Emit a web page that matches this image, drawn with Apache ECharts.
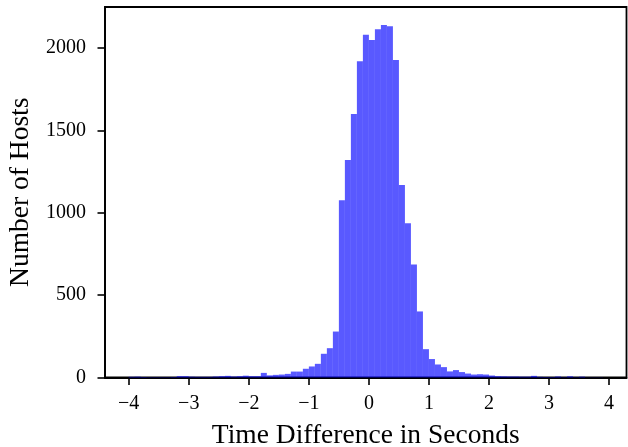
<!DOCTYPE html>
<html>
<head>
<meta charset="utf-8">
<script src="https://cdn.jsdelivr.net/npm/echarts@6/dist/echarts.min.js"></script>
<style>
html,body{margin:0;padding:0;background:#fff;}
#chart{width:628px;height:447px;}
</style>
</head>
<body>
<div id="chart"></div>
<script>
// Histogram bins (lower edges, in seconds) and bin width
const binLower = [
  -4.0,-3.9,-3.8,-3.7,-3.6,-3.5,-3.4,-3.3,-3.2,-3.1,
  -3.0,-2.9,-2.8,-2.7,-2.6,-2.5,-2.4,-2.3,-2.2,-2.1,
  -2.0,-1.9,-1.8,-1.7,-1.6,-1.5,-1.4,-1.3,-1.2,-1.1,
  -1.0,-0.9,-0.8,-0.7,-0.6,-0.5,-0.4,-0.3,-0.2,-0.1,
  0.0,0.1,0.2,0.3,0.4,0.5,0.6,0.7,0.8,0.9,
  1.0,1.1,1.2,1.3,1.4,1.5,1.6,1.7,1.8,1.9,
  2.0,2.1,2.2,2.3,2.4,2.5,2.6,2.7,2.8,2.9,
  3.0,3.1,3.2,3.3,3.4,3.5,3.6,3.7,3.8
];
const binWidth = 0.1;
// Number of hosts per bin
const hostCounts = [
  4,5,3,2,2,2,2,3,8,8,
  5,4,4,4,6,8,10,6,8,11,
  8,8,28,13,16,18,22,36,36,53,
  67,83,144,178,279,1076,1321,1600,1920,2080,
  2049,2114,2140,2132,1928,1169,937,686,401,172,
  112,79,63,37,45,33,24,18,20,18,
  12,8,7,6,6,5,5,10,4,3,
  3,6,2,7,2,5,1,1,1
];
// Tick values
const xTicks = [-4,-3,-2,-1,0,1,2,3,4];
const yTicks = [0,500,1000,1500,2000];

const chart = echarts.init(document.getElementById('chart'));
const data = binLower.map((x, i) => [x, hostCounts[i]]);
const serif = '"Liberation Serif", "DejaVu Serif", serif';

chart.setOption({
  animation: false,
  backgroundColor: '#fff',
  grid: {
    left: 105, right: 1.5, top: 7, bottom: 69.5,
    containLabel: false, outerBoundsMode: 'none',
    show: true, borderColor: '#000', borderWidth: 1.8, backgroundColor: 'transparent'
  },
  xAxis: {
    type: 'value',
    min: -4.395, max: 4.29,
    name: 'Time Difference in Seconds',
    nameLocation: 'middle',
    nameGap: 44,
    nameTextStyle: { fontFamily: serif, fontSize: 27.5, color: '#000' },
    axisLine: { show: true, onZero: false, lineStyle: { color: '#000', width: 1.8 } },
    axisTick: { show: true, length: 7.5, customValues: xTicks, lineStyle: { color: '#000', width: 1.6 } },
    axisLabel: {
      customValues: xTicks, margin: 16,
      fontFamily: serif, fontSize: 20, color: '#000',
      formatter: v => String(v).replace('-', '\u2212')
    },
    splitLine: { show: false }
  },
  yAxis: {
    type: 'value',
    min: 0, max: 2249, interval: 500,
    name: 'Number of Hosts',
    nameLocation: 'middle',
    nameGap: 68,
    nameTextStyle: { fontFamily: serif, fontSize: 27.5, color: '#000' },
    axisLine: { show: true, onZero: false, lineStyle: { color: '#000', width: 1.8 } },
    axisTick: { show: true, length: 7.5, customValues: yTicks, lineStyle: { color: '#000', width: 1.6 } },
    axisLabel: {
      customValues: yTicks, margin: 19,
      fontFamily: serif, fontSize: 20, color: '#000',
      formatter: v => String(v)
    },
    splitLine: { show: false }
  },
  series: [{
    type: 'custom',
    data: data,
    encode: { x: 0, y: 1 },
    renderItem: function (params, api) {
      const x0 = api.value(0);
      const v = api.value(1);
      const p0 = api.coord([x0, v]);
      const p1 = api.coord([x0 + binWidth, 0]);
      return {
        type: 'rect',
        shape: { x: p0[0], y: p0[1], width: p1[0] - p0[0], height: p1[1] - p0[1] },
        style: { fill: 'rgba(0,0,255,0.65)' }
      };
    }
  }]
});
</script>
</body>
</html>
